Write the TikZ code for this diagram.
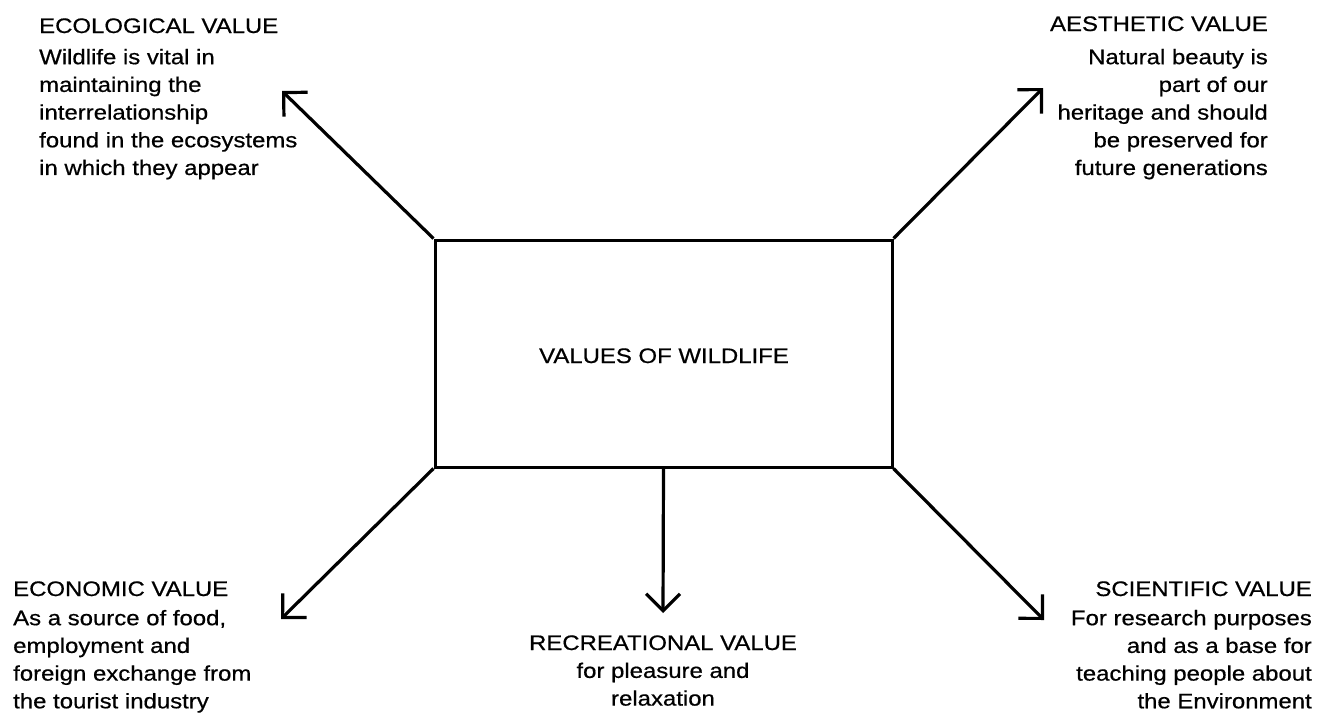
\documentclass[tikz,border=0pt]{standalone}
\usepackage{fontspec}
\setmainfont{Liberation Sans}[FakeStretch=1.14,FakeBold=0.6]
\usetikzlibrary{arrows.meta}
\begin{document}
\begin{tikzpicture}[x=1pt,y=-1pt,
  txt/.style={inner sep=0pt,font=\fontsize{21}{27.7}\selectfont},
  head/.style={txt},
  body/.style={txt},
  mainbox/.style={draw,line width=3pt,minimum width=457pt,minimum height=227pt,inner sep=0pt},
  conn/.style={line width=3.2pt,-{Straight Barb[angle=90:24pt,line width=3.2pt]}}
]
\useasboundingbox (0,0) rectangle (1330,715);
\node[mainbox] (box) at (663.5,353.5) {};
\node[head,anchor=base] (title) at (664,363) {VALUES OF WILDLIFE};

\coordinate (tl) at (282,91);
\coordinate (tr) at (1043,88);
\coordinate (bl) at (281,619);
\coordinate (bm) at (663,613);
\coordinate (br) at (1044,620);

\draw[conn] (box.north west) -- (tl);
\draw[conn] (box.north east) -- (tr);
\draw[conn] (box.south west) -- (bl);
\draw[conn] (box.south) -- (bm);
\draw[conn] (box.south east) -- (br);

\node[head,anchor=base west] (ecoh) at (39,33) {ECOLOGICAL VALUE};
\node[body,anchor=north west,align=left] (ecob) at (39,44.6)
  {\strut Wildlife is vital in\\maintaining the\\interrelationship\\found in the ecosystems\\in which they appear};

\node[head,anchor=base east] (aesh) at (1268,31) {AESTHETIC VALUE};
\node[body,anchor=north east,align=right] (aesb) at (1268,44.6)
  {\strut Natural beauty is\\part of our\\heritage and should\\be preserved for\\future generations};

\node[head,anchor=base west] (econh) at (13,596) {ECONOMIC VALUE};
\node[body,anchor=north west,align=left] (econb) at (13,605.6)
  {\strut As a source of food,\\employment and\\foreign exchange from\\the tourist industry};

\node[head,anchor=base] (rech) at (663,650) {RECREATIONAL VALUE};
\node[body,anchor=north,align=center] (recb) at (663,658.3)
  {\strut for pleasure and\\relaxation};

\node[head,anchor=base east] (scih) at (1312,596) {SCIENTIFIC VALUE};
\node[body,anchor=north east,align=right] (scib) at (1312,605.6)
  {\strut For research purposes\\and as a base for\\teaching people about\\the Environment};
\end{tikzpicture}
\end{document}
